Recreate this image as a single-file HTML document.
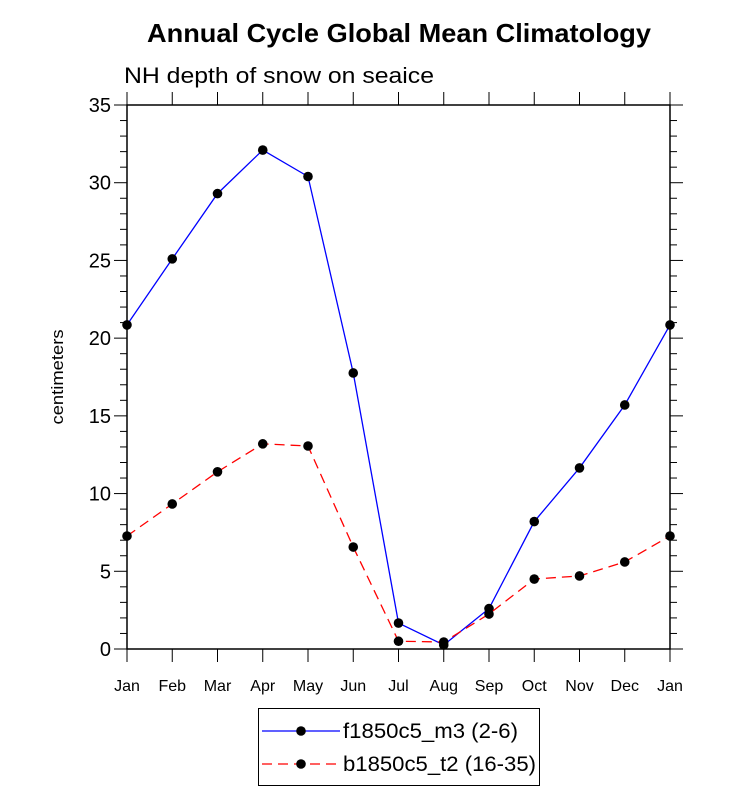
<!DOCTYPE html>
<html><head><meta charset="utf-8"><style>
body{margin:0;background:#fff;}
svg text{font-family:"Liberation Sans",sans-serif;fill:#000;}
</style></head><body>
<svg width="733" height="806" xmlns="http://www.w3.org/2000/svg">
<text x="147" y="42" font-size="26" font-weight="bold" textLength="504" lengthAdjust="spacingAndGlyphs">Annual Cycle Global Mean Climatology</text>
<text x="124" y="83" font-size="22" textLength="310" lengthAdjust="spacingAndGlyphs">NH depth of snow on seaice</text>
<text transform="translate(63,377) rotate(-90)" text-anchor="middle" font-size="17" textLength="95" lengthAdjust="spacingAndGlyphs">centimeters</text>
<g id="axes"></g>
<g id="series"></g>
<g>
<rect x="258.5" y="708.5" width="281" height="77" fill="#fff" stroke="#000" stroke-width="1"/>
<g>
<line x1="262" y1="731" x2="340" y2="731" stroke="#00f" stroke-width="1.3"/>
<circle cx="301" cy="731" r="4.8" fill="#000"/>
<text x="343" y="738" font-size="21" textLength="175" lengthAdjust="spacingAndGlyphs">f1850c5_m3 (2-6)</text></g>
<g>
<line x1="262" y1="764" x2="340" y2="764" stroke="#f00" stroke-width="1.3" stroke-dasharray="10,6"/>
<circle cx="301" cy="764" r="4.8" fill="#000"/>
<text x="343" y="771" font-size="21" textLength="193" lengthAdjust="spacingAndGlyphs">b1850c5_t2 (16-35)</text></g>
</g>
</svg>
<script>
const months=["Jan","Feb","Mar","Apr","May","Jun","Jul","Aug","Sep","Oct","Nov","Dec","Jan"];
const f1850=[20.85,25.1,29.3,32.1,30.4,17.76,1.67,0.26,2.6,8.2,11.65,15.7,20.85];
const b1850=[7.27,9.33,11.4,13.2,13.06,6.56,0.5,0.45,2.25,4.5,4.7,5.6,7.27];
const yTicks=[0,5,10,15,20,25,30,35];
const NS="http://www.w3.org/2000/svg";
const L=127,R=670,T=105,B=649,ymax=35;
const xs=i=>L+(R-L)*i/(months.length-1);
const ys=v=>B-(B-T)*v/ymax;
function mk(tag,attrs,parent){const e=document.createElementNS(NS,tag);for(const k in attrs)e.setAttribute(k,attrs[k]);parent.appendChild(e);return e;}
const ax=document.getElementById('axes');
const fr=mk('rect',{x:L,y:T,width:R-L,height:B-T,fill:'none',stroke:'#000','stroke-width':1.5},ax);


for(let v=0;v<=ymax;v++){
  const y=ys(v),len=v%5===0?13:7;
  mk('line',{x1:L-len,y1:y,x2:L,y2:y,stroke:'#000','stroke-width':1},ax);
  mk('line',{x1:R,y1:y,x2:R+len,y2:y,stroke:'#000','stroke-width':1},ax);
}
yTicks.forEach(v=>{
  const t=mk('text',{x:L-16,y:ys(v)+7,'text-anchor':'end','font-size':20},ax);
  t.textContent=v;
  
  
});
months.forEach((m,i)=>{
  const x=xs(i);
  mk('line',{x1:x,y1:B,x2:x,y2:B+13,stroke:'#000','stroke-width':1},ax);
  mk('line',{x1:x,y1:T-13,x2:x,y2:T,stroke:'#000','stroke-width':1},ax);
  const t=mk('text',{x:x,y:B+42,'text-anchor':'middle','font-size':16},ax);
  t.textContent=m;
  
  
});
const sg=document.getElementById('series');
function drawSeries(vals,color,dash,name){
  const g=mk('g',{},sg);
  
  
  const pl=mk('polyline',{points:vals.map((v,i)=>xs(i)+','+ys(v)).join(' '),fill:'none',stroke:color,'stroke-width':1.3},g);
  if(dash)pl.setAttribute('stroke-dasharray',dash);
  vals.forEach((v,i)=>{
    const c=mk('circle',{cx:xs(i),cy:ys(v),r:4.8,fill:'#000'},g);
    
    
  });
}
drawSeries(f1850,'#00f',null,'series-f1850c5');
drawSeries(b1850,'#f00','10,6','series-b1850c5');
</script>
</body></html>
